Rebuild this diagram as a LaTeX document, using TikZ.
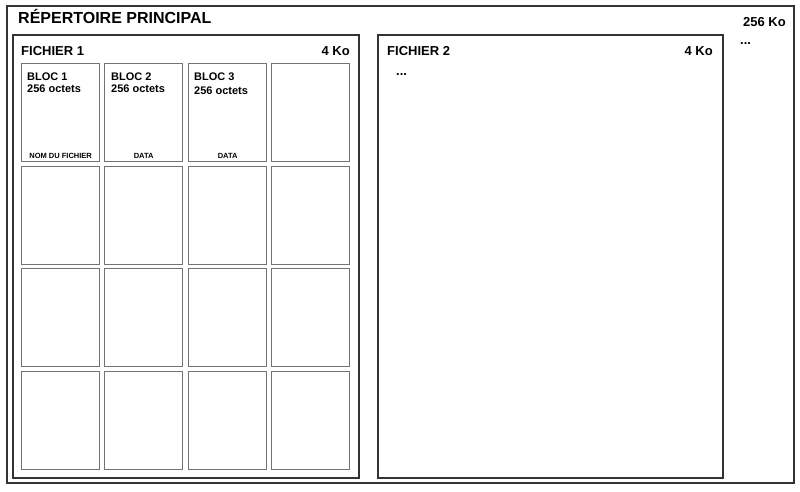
\documentclass[tikz,border=0pt]{standalone}
\usepackage{fontspec}
\setmainfont{Liberation Sans}
\begin{document}
\begin{tikzpicture}[x=1pt,y=-1pt,
        frame/.style={draw=black!80,line width=1.2pt},
        bloc/.style={draw=black!55,line width=1.3pt,minimum width=78pt,minimum height=98pt,inner sep=0pt,anchor=north west},
        big/.style={font=\bfseries\fontsize{16}{18}\selectfont,inner sep=0pt},
        mid/.style={font=\bfseries\fontsize{13}{15}\selectfont,inner sep=0pt},
        small/.style={font=\bfseries\fontsize{11}{13}\selectfont,inner sep=0pt},
        tiny/.style={font=\bfseries\fontsize{7.5}{9}\selectfont,inner sep=0pt}]
        \useasboundingbox (0,0) rectangle (800,491);
        \draw[frame] (7,6) rectangle (794,483);
        \draw[frame] (13,35) rectangle (359,478);
        \draw[frame] (378,35) rectangle (723,478);
        \foreach \x [count=\i] in {21,104,188,271}
            \foreach \y [count=\j] in {63,166,268,371}
                \node[bloc] (b\j\i) at (\x,\y) {};
        \node[big,anchor=base west] (titre) at (18,23) {RÉPERTOIRE PRINCIPAL};
        \node[mid,anchor=base east] (taille) at (786,26) {256 Ko};
        \node[mid,anchor=base west] (suite) at (740,44) {...};
        \node[mid,anchor=base west] (f1) at (21,55) {FICHIER 1};
        \node[mid,anchor=base east] (f1taille) at (350,55) {4 Ko};
        \node[mid,anchor=base west] (f2) at (387,55) {FICHIER 2};
        \node[mid,anchor=base east] (f2taille) at (713,55) {4 Ko};
        \node[mid,anchor=base west] (f2suite) at (396,75) {...};
        \node[small,anchor=base west] (nom1) at ([xshift=6pt,yshift=-17pt]b11.north west) {BLOC 1};
        \node[small,anchor=base west] (oct1) at ([xshift=6pt,yshift=-29pt]b11.north west) {256 octets};
        \node[small,anchor=base west] (nom2) at ([xshift=7pt,yshift=-17pt]b12.north west) {BLOC 2};
        \node[small,anchor=base west] (oct2) at ([xshift=7pt,yshift=-29pt]b12.north west) {256 octets};
        \node[small,anchor=base west] (nom3) at ([xshift=6pt,yshift=-17pt]b13.north west) {BLOC 3};
        \node[small,anchor=base west] (oct3) at ([xshift=6pt,yshift=-31pt]b13.north west) {256 octets};
        \node[tiny,anchor=base] (role1) at ([yshift=4pt]b11.south) {NOM DU FICHIER};
        \node[tiny,anchor=base] (role2) at ([yshift=4pt]b12.south) {DATA};
        \node[tiny,anchor=base] (role3) at ([yshift=4pt]b13.south) {DATA};
    \end{tikzpicture}
\end{document}
